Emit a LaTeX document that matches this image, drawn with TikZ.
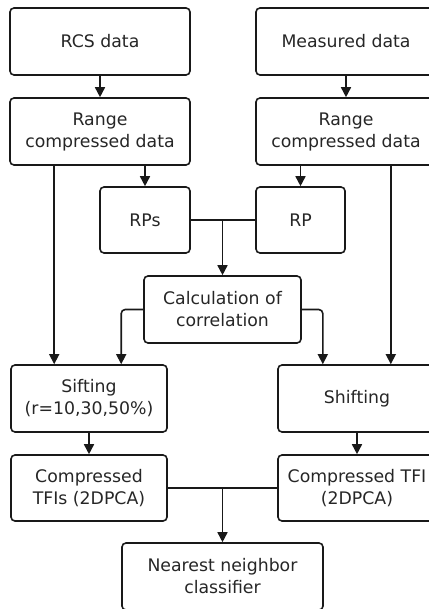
\documentclass[tikz,border=0pt]{standalone}
\usepackage{fontspec}
\setmainfont{DejaVu Sans}
\usetikzlibrary{arrows.meta}
\tikzset{
	box/.style={draw=black!90, rounded corners=4pt, line width=1.6pt, align=center,
		text=black!85, font=\fontsize{17.3}{22}\selectfont, inner sep=0pt},
	arr/.style={draw=black!90, line width=1.6pt, -{Triangle[width=10pt,length=10pt]}},
}
\begin{document}
\begin{tikzpicture}[x=1pt,y=-1pt]
			\useasboundingbox (0,0) rectangle (428,609);
			% first row
			\node[box,minimum width=180pt,minimum height=67pt] (rcs) at (100,41.5) {RCS data};
			\node[box,minimum width=180pt,minimum height=67pt] (meas) at (346,41.5) {Measured data};
			\node[box,minimum width=180pt,minimum height=67pt] (rangeL) at (100,131.5) {Range\\compressed data};
			\node[box,minimum width=180pt,minimum height=67pt] (rangeR) at (346,131.5) {Range\\compressed data};
			\node[box,minimum width=90pt,minimum height=66pt] (rps) at (145,220) {RPs};
			\node[box,minimum width=89pt,minimum height=66pt] (rp) at (300.5,220) {RP};
			\node[box,minimum width=157pt,minimum height=67pt] (calc) at (222.5,309.5) {Calculation of\\correlation};
			\node[box,minimum width=156pt,minimum height=67pt] (sift) at (89,398.5) {Sifting\\(r=10,30,50\%)};
			\node[box,minimum width=158pt,minimum height=67pt] (shift) at (357,398.5) {Shifting};
			\node[box,minimum width=156pt,minimum height=66pt] (comL) at (89,488) {Compressed\\TFIs (2DPCA)};
			\node[box,minimum width=158pt,minimum height=66pt] (comR) at (357,488) {Compressed TFI\\(2DPCA)};
			\node[box,minimum width=201pt,minimum height=67pt] (nn) at (222.5,576.5) {Nearest neighbor\\classifier};
			
			% connectors
			\draw[arr] (rcs) -- (rangeL);
			\draw[arr] (meas) -- (rangeR);
			\draw[arr] (rps.north |- rangeL.south) -- (rps.north);
			\draw[arr] (rp.north |- rangeR.south) -- (rp.north);
			\draw[draw=black!90,line width=1.6pt] (rps) -- (rp);
			\draw[arr] (calc.north |- rps.east) -- (calc.north);
			\draw[arr] ([xshift=45pt]rangeL.south west) -- ([xshift=45pt]rangeL.south west |- sift.north);
			\draw[arr] ([xshift=-46pt]rangeR.south east) -- ([xshift=-46pt]rangeR.south east |- shift.north);
			\draw[arr,rounded corners=4pt] (calc.west) -| ([xshift=-22pt]calc.west |- sift.north);
			\draw[arr,rounded corners=4pt] (calc.east) -| ([xshift=21pt]calc.east |- shift.north);
			\draw[arr] (sift) -- (comL);
			\draw[arr] (shift) -- (comR);
			\draw[draw=black!90,line width=1.6pt] (comL) -- (comR);
			\draw[arr] (nn.north |- comL.east) -- (nn.north);
		\end{tikzpicture}
\end{document}
